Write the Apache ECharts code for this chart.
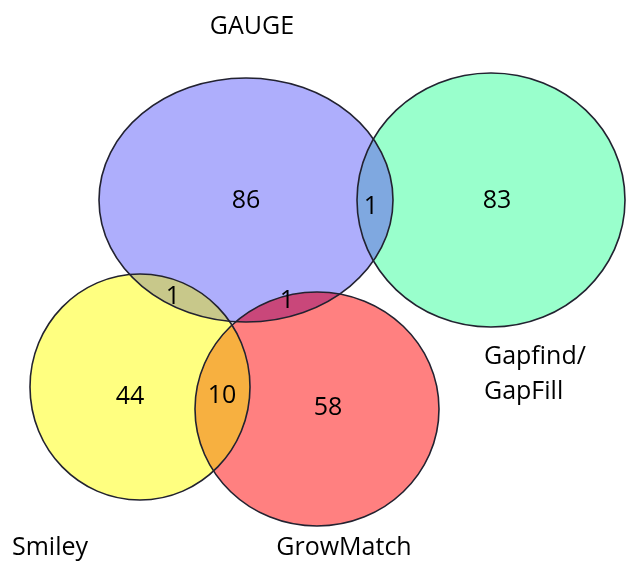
<!DOCTYPE html>
<html>
<head>
<meta charset="utf-8">
<script src="https://cdn.jsdelivr.net/npm/echarts@6/dist/echarts.min.js"></script>
<style>
  html, body { margin: 0; padding: 0; background: #fff; }
  #chart { width: 628px; height: 563px; }
</style>
</head>
<body>
<div id="chart"></div>
<script>
// sets and counts
const setNames = ['GAUGE', 'Gapfind/\nGapFill', 'Smiley', 'GrowMatch']
const onlyCounts = [86, 83, 44, 58]
// overlaps: pairs of set indexes and their counts
const pairSets = [[0, 1], [0, 2], [0, 3], [2, 3]]
const pairCounts = [1, 1, 1, 10]

// layout (in page units, mapped through the hidden axes)
const shapes = [
  { cx: 246, cy: 200, rx: 147, ry: 122 },
  { cx: 491, cy: 200, rx: 134, ry: 127 },
  { cx: 140, cy: 387, rx: 110, ry: 113 },
  { cx: 317, cy: 409, rx: 122, ry: 117 }
]
const setColors = ['#aeaefc', '#99ffcc', '#ffff80', '#ff8080']
const pairColors = ['#7fa8e0', '#c8c88a', '#c9477a', '#f7b040']
const onlyLabelPos = [[246, 201], [497, 201], [130, 397], [328, 408]]
const pairLabelPos = [[371, 207], [173, 297], [287, 301], [222, 396]]
const nameLabelPos = [[252, 27], [484, 374], [12, 548], [344, 548]]
const nameAlign = ['center', 'left', 'left', 'center']

const font = '"Open Sans", "Noto Sans", sans-serif'

const chart = echarts.init(document.getElementById('chart'))

function ellipsePts (api, s, n) {
  const c = api.coord([s.cx, s.cy])
  const sz = api.size([s.rx, s.ry])
  const pts = []
  for (let i = 0; i < n; i++) {
    const a = i / n * Math.PI * 2
    pts.push([c[0] + sz[0] * Math.cos(a), c[1] + sz[1] * Math.sin(a)])
  }
  return { pts, c, sz }
}

function inside (p, e) {
  const dx = (p[0] - e.c[0]) / e.sz[0]
  const dy = (p[1] - e.c[1]) / e.sz[1]
  return dx * dx + dy * dy <= 1
}

function renderEllipse (params, api, stroke) {
  const s = shapes[params.dataIndex]
  const c = api.coord([s.cx, s.cy])
  const sz = api.size([s.rx, s.ry])
  return {
    type: 'ellipse',
    shape: { cx: c[0], cy: c[1], rx: sz[0], ry: sz[1] },
    style: stroke
      ? { fill: 'none', stroke: '#222230', lineWidth: 1.6 }
      : { fill: setColors[params.dataIndex], stroke: 'none' }
  }
}

function renderLens (params, api) {
  const pair = pairSets[params.dataIndex]
  const a = ellipsePts(api, shapes[pair[0]], 720)
  const b = ellipsePts(api, shapes[pair[1]], 720)
  let pts = a.pts.filter(p => inside(p, b)).concat(b.pts.filter(p => inside(p, a)))
  if (!pts.length) return
  let mx = 0
  let my = 0
  pts.forEach(p => { mx += p[0]; my += p[1] })
  mx /= pts.length
  my /= pts.length
  pts.sort((p, q) => Math.atan2(p[1] - my, p[0] - mx) - Math.atan2(q[1] - my, q[0] - mx))
  return {
    type: 'polygon',
    shape: { points: pts },
    style: { fill: pairColors[params.dataIndex], stroke: 'none' }
  }
}

const countLabels = onlyCounts.map((v, i) => ({ value: onlyLabelPos[i], name: String(v) }))
  .concat(pairCounts.map((v, i) => ({ value: pairLabelPos[i], name: String(v) })))
const nameLabels = setNames.map((n, i) => ({
  value: nameLabelPos[i],
  name: n,
  label: { align: nameAlign[i] }
}))

const option = {
  animation: false,
  grid: { left: 0, right: 0, top: 0, bottom: 0 },
  xAxis: { type: 'value', min: 0, max: 628, show: false },
  yAxis: { type: 'value', min: 0, max: 563, inverse: true, show: false },
  series: [
    {
      type: 'custom',
      renderItem: (p, api) => renderEllipse(p, api, false),
      data: shapes.map((s, i) => [s.cx, s.cy]),
      silent: true
    },
    {
      type: 'custom',
      renderItem: renderLens,
      data: pairCounts,
      silent: true
    },
    {
      type: 'custom',
      renderItem: (p, api) => renderEllipse(p, api, true),
      data: shapes.map((s, i) => [s.cx, s.cy]),
      silent: true
    },
    {
      type: 'scatter',
      symbolSize: 0,
      silent: true,
      label: {
        show: true,
        position: 'inside',
        formatter: '{b}',
        color: '#000',
        opacity: 1,
        fontSize: 25,
        fontFamily: font
      },
      data: countLabels
    },
    {
      type: 'scatter',
      symbolSize: 0,
      silent: true,
      label: {
        show: true,
        position: 'inside',
        formatter: '{b}',
        color: '#000',
        opacity: 1,
        fontSize: 25,
        lineHeight: 35,
        fontFamily: font
      },
      data: nameLabels
    }
  ]
}
chart.setOption(option)
</script>
</body>
</html>
